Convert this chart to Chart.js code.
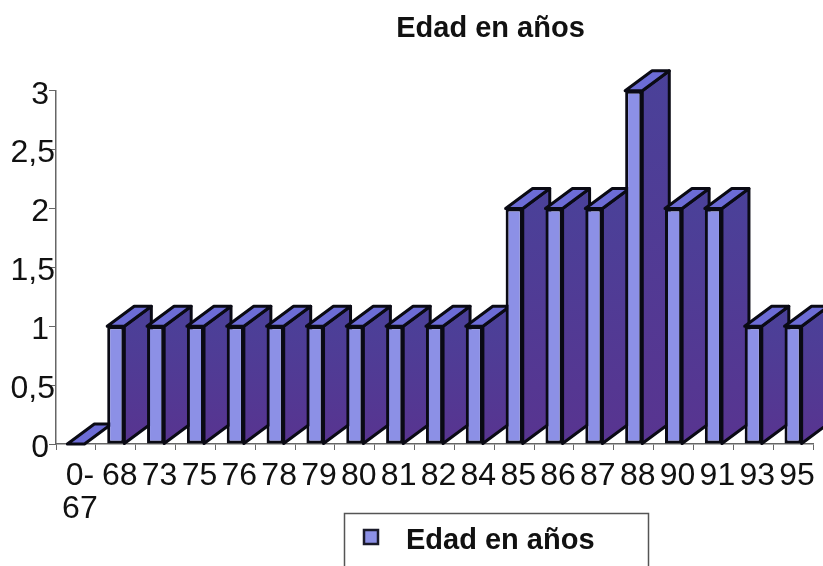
<!DOCTYPE html>
<html>
<head>
<meta charset="utf-8">
<script src="https://cdn.jsdelivr.net/npm/chart.js@4"></script>
<style>
  html, body { margin: 0; padding: 0; background: #fff; overflow: hidden; }
  #wrap { width: 823px; height: 566px; }
</style>
</head>
<body>
<div id="wrap"><canvas id="chartEdad" width="823" height="566"></canvas></div>
<script>
const categories = [['0-', '67'], '68', '73', '75', '76', '78', '79', '80', '81', '82', '84', '85', '86', '87', '88', '90', '91', '93', '95'];
const edadValues = [0, 1, 1, 1, 1, 1, 1, 1, 1, 1, 1, 2, 2, 2, 3, 2, 2, 1, 1];
const yTickLabels = ['0', '0,5', '1', '1,5', '2', '2,5', '3'];
const seriesName = 'Edad en años';

const FONT = '"Liberation Sans", Arial, sans-serif';
const DEPTH_X = 27;
const DEPTH_Y = 20;

function shape(ctx, points, fill) {
    ctx.beginPath();
    points.forEach((p, i) => i ? ctx.lineTo(p[0], p[1]) : ctx.moveTo(p[0], p[1]));
    ctx.closePath();
    ctx.fillStyle = fill;
    ctx.fill();
    ctx.stroke();
}

// sides and tops go under the real bars, so the next front covers the previous side
const depthPlugin = {
    id: 'depth',
    beforeDatasetsDraw(chart) {
        const ctx = chart.ctx;
        ctx.save();
        ctx.strokeStyle = '#0a0a14';
        ctx.lineWidth = 3;
        ctx.lineJoin = 'round';
        chart.getDatasetMeta(0).data.forEach((bar) => {
            const l = bar.x - bar.width / 2;
            const r = bar.x + bar.width / 2;
            const grad = ctx.createLinearGradient(0, bar.y - DEPTH_Y, 0, bar.base);
            grad.addColorStop(0, '#4a4199');
            grad.addColorStop(1, '#583490');
            if (bar.base - bar.y > 1) {
                shape(ctx, [[r, bar.y], [r + DEPTH_X, bar.y - DEPTH_Y], [r + DEPTH_X, bar.base - DEPTH_Y], [r, bar.base]], grad);
            }
            shape(ctx, [[l, bar.y], [l + DEPTH_X, bar.y - DEPTH_Y], [r + DEPTH_X, bar.y - DEPTH_Y], [r, bar.y]], '#6c6cd6');
        });
        ctx.restore();
    }
};

// legend box runs off the bottom of the picture, title sits over the right part
const placePlugin = {
    id: 'place',
    afterLayout(chart) {
        chart.titleBlock.left += 84;
        chart.titleBlock.right += 84;
    },
    afterUpdate(chart) {
        // y labels sit a bit low, and only the ,5 ones touch the axis
        chart.scales.y.getLabelItems().forEach((item) => {
            item.options.translation[1] += 4;
            if (!String(item.label).includes(',')) {
                item.options.translation[0] -= 6;
            }
        });
        // x labels sit a bit right of the category centre
        chart.scales.x.getLabelItems().forEach((item) => {
            item.options.translation[0] += 4;
        });
    },
    afterDraw(chart) {
        const ctx = chart.ctx;
        ctx.save();
        ctx.strokeStyle = '#555';
        ctx.lineWidth = 1.5;
        ctx.strokeRect(344.5, 513.5, 304, 80);
        ctx.fillStyle = '#8c90e6';
        ctx.strokeStyle = '#1a1a2a';
        ctx.lineWidth = 2.5;
        ctx.fillRect(364, 530, 14, 14);
        ctx.strokeRect(364, 530, 14, 14);
        ctx.fillStyle = '#111';
        ctx.font = 'bold 29px ' + FONT;
        ctx.textBaseline = 'middle';
        ctx.fillText(seriesName, 406, 541);
        ctx.restore();
    }
};

new Chart(document.getElementById('chartEdad'), {
    type: 'bar',
    data: {
        labels: categories,
        datasets: [{
            label: seriesName,
            data: edadValues,
            backgroundColor: '#8c90e6',
            borderColor: '#0a0a14',
            borderWidth: 3,
            borderSkipped: false,
            barPercentage: 0.43,
            categoryPercentage: 1
        }]
    },
    options: {
        responsive: false,
        animation: false,
        layout: { padding: { left: 0, right: 10, top: 0, bottom: 0 } },
        plugins: {
            legend: { display: false },
            tooltip: { enabled: false },
            title: {
                display: true,
                text: seriesName,
                color: '#111',
                font: { family: FONT, size: 29, weight: 'bold' },
                padding: { top: 12, bottom: 44 }
            }
        },
        scales: {
            x: {
                offset: true,
                grid: { drawOnChartArea: false, drawTicks: true, tickLength: 6, color: '#666' },
                border: { color: '#666', width: 1.5 },
                ticks: {
                    color: '#111',
                    font: { family: FONT, size: 32, lineHeight: 1.05 },
                    maxRotation: 0,
                    autoSkip: false,
                    padding: 9
                },
                afterFit(scale) { scale.height = 122; }
            },
            y: {
                min: 0,
                max: 3,
                grid: { drawOnChartArea: false, drawTicks: true, tickLength: 7, color: '#666' },
                border: { color: '#666', width: 1.5 },
                ticks: {
                    stepSize: 0.5,
                    color: '#111',
                    font: { family: FONT, size: 32 },
                    padding: -6,
                    callback: (value, index) => yTickLabels[index]
                },
                afterFit(scale) { scale.width = 56; }
            }
        }
    },
    plugins: [depthPlugin, placePlugin]
});
</script>
</body>
</html>
